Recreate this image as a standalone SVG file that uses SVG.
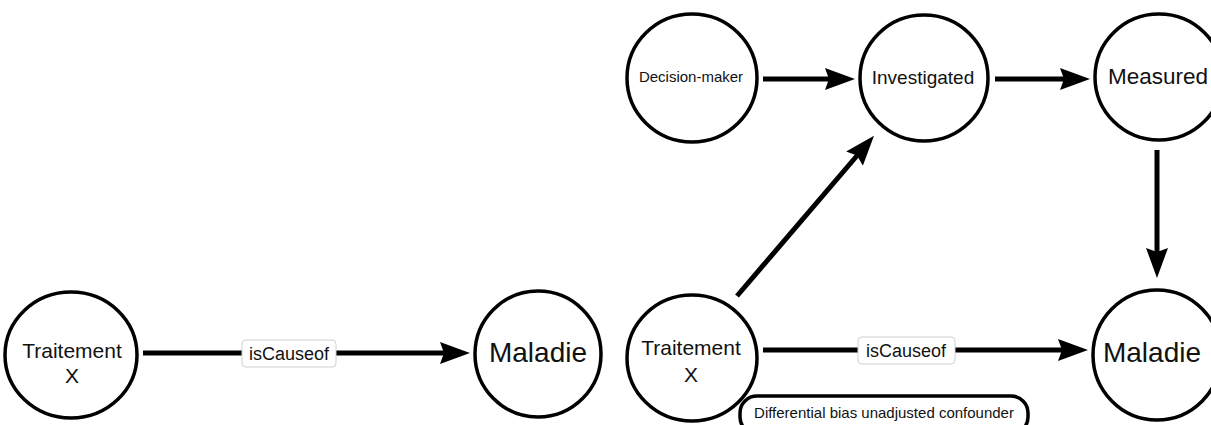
<svg xmlns="http://www.w3.org/2000/svg" width="1211" height="425" viewBox="0 0 1211 425">
  <style>
    .node { fill: #fff; stroke: #000; stroke-width: 3.5; }
    .edge { stroke: #000; stroke-width: 5; fill: none; }
    .t { font-family: "Liberation Sans", Arial, sans-serif; fill: #111; text-anchor: middle; }
    .lbl { fill: #fff; stroke: #d0d0d0; stroke-width: 1; }
  </style>
  <defs>
    <marker id="ah" markerUnits="userSpaceOnUse" markerWidth="32" markerHeight="24" refX="10" refY="11" orient="auto">
      <path d="M0,0 L30,11 L0,22 L4,11 z" fill="#000"/>
    </marker>
  </defs>
  <rect width="1211" height="425" fill="#fff"/>

  <g id="connectors">
    <line class="edge" x1="143" y1="353" x2="450" y2="353" marker-end="url(#ah)"/>
    <line class="edge" x1="763" y1="79" x2="835" y2="79" marker-end="url(#ah)"/>
    <line class="edge" x1="995" y1="79" x2="1070" y2="79" marker-end="url(#ah)"/>
    <line class="edge" x1="1157" y1="150" x2="1157" y2="258" marker-end="url(#ah)"/>
    <line class="edge" x1="737" y1="296" x2="861" y2="151" marker-end="url(#ah)"/>
    <line class="edge" x1="763" y1="350" x2="1068" y2="350" marker-end="url(#ah)"/>
    <g id="label-left">
      <rect class="lbl" x="242" y="340" width="94" height="27" rx="4"/>
      <text class="t" x="289" y="360" font-size="18">isCauseof</text>
    </g>
    <g id="label-right">
      <rect class="lbl" x="858" y="337" width="97" height="27" rx="4"/>
      <text class="t" x="906" y="357" font-size="18">isCauseof</text>
    </g>
  </g>

  <g id="traitement-left">
    <ellipse class="node" cx="71" cy="355" rx="66" ry="63"/>
    <text class="t" x="72" y="358" font-size="21">Traitement</text>
    <text class="t" x="72" y="383" font-size="21">X</text>
  </g>
  <g id="maladie-left">
    <ellipse class="node" cx="538" cy="354" rx="63" ry="63"/>
    <text class="t" x="538" y="362" font-size="28">Maladie</text>
  </g>
  <g id="decision-maker">
    <ellipse class="node" cx="692" cy="78" rx="65" ry="64"/>
    <text class="t" x="691" y="82" font-size="15">Decision-maker</text>
  </g>
  <g id="investigated">
    <ellipse class="node" cx="924" cy="78" rx="64" ry="63"/>
    <text class="t" x="923" y="84" font-size="19">Investigated</text>
  </g>
  <g id="measured">
    <ellipse class="node" cx="1159" cy="77" rx="64" ry="63"/>
    <text class="t" x="1158" y="84" font-size="22.5">Measured</text>
  </g>
  <g id="traitement-right">
    <ellipse class="node" cx="692" cy="358" rx="65" ry="63"/>
    <text class="t" x="691" y="355" font-size="21">Traitement</text>
    <text class="t" x="691" y="382" font-size="21">X</text>
  </g>
  <g id="maladie-right">
    <ellipse class="node" cx="1157" cy="355" rx="64" ry="65"/>
    <text class="t" x="1152" y="362" font-size="28">Maladie</text>
  </g>
  <g id="confounder">
    <rect class="node" x="740" y="396" width="288" height="38" rx="17" stroke-width="3"/>
    <text class="t" x="884" y="418" font-size="15">Differential bias unadjusted confounder</text>
  </g>
</svg>
